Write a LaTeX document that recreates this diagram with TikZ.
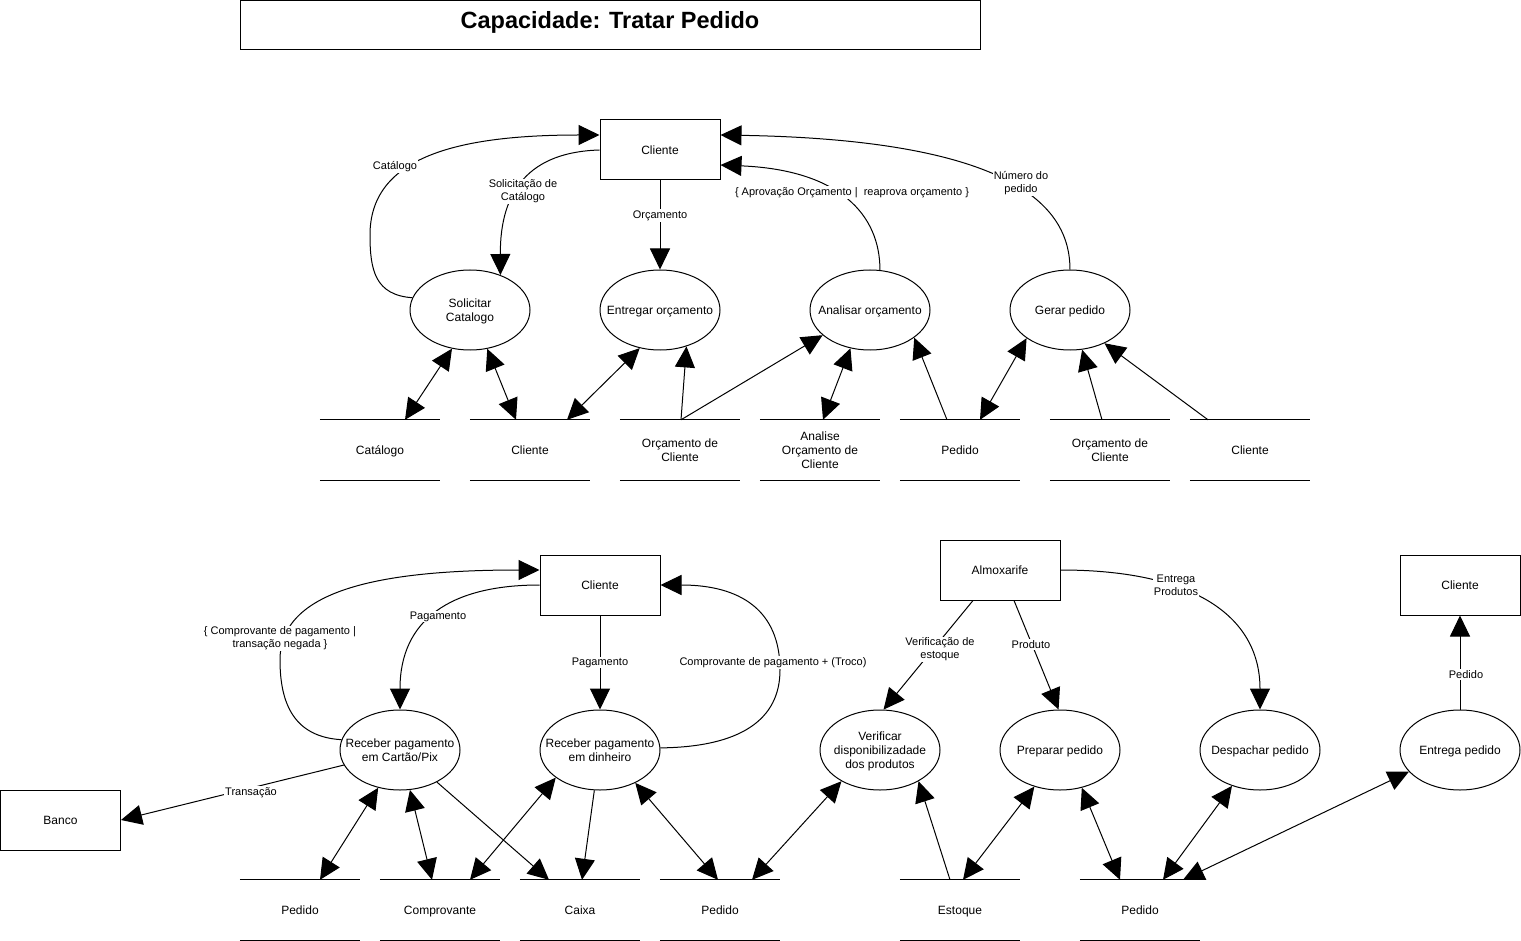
\documentclass[tikz,border=0pt]{standalone}
\usepackage{fontspec}
\setmainfont{Liberation Sans}
\usetikzlibrary{arrows.meta,shapes.geometric,calc}
\newcommand{\zw}[1]{\makebox[0pt]{\raisebox{-2pt}[\height][\depth]{\begin{tabular}{@{}c@{}}#1\end{tabular}}}}
\tikzset{
  base/.style={font=\fontsize{12}{14}\selectfont, align=center, inner sep=0pt},
  entity/.style={base, draw, line width=1pt, minimum width=120pt, minimum height=60pt},
  proc/.style={base, draw, ellipse, line width=1pt, minimum width=120pt, minimum height=80pt},
  store/.style={base, minimum width=120pt, minimum height=60pt},
  storeline/.style={line width=1pt},
  lbl/.style={font=\fontsize{11}{13}\selectfont, align=center, fill=white, inner sep=1pt, yshift=-1.5pt},
  flow/.style={line width=1pt, -{Triangle[length=21pt,width=20pt]}},
  bflow/.style={line width=1pt, {Triangle[length=21pt,width=20pt]}-{Triangle[length=21pt,width=20pt]}},
  plain/.style={line width=1pt}
}
\begin{document}
\begin{tikzpicture}[x=1pt,y=-1pt]
\useasboundingbox (0,0) rectangle (1521,941);

% title
\node[draw, line width=1pt, minimum width=740pt, minimum height=49pt, inner sep=0pt] (title) at (610,25) {};
\node[inner sep=0pt, font=\bfseries\fontsize{23.5}{28}\selectfont] (titletext) at (610,22.4) {Capacidade: Tratar Pedido};

% ---------------- top section ----------------
\node[entity] (cli) at (660,150) {\zw{Cliente}};
\node[proc] (sc) at (470,310) {\zw{Solicitar\\Catalogo}};
\node[proc] (eo) at (660,310) {\zw{Entregar orçamento}};
\node[proc] (ao) at (870,310) {\zw{Analisar orçamento}};
\node[proc] (gp) at (1070,310) {\zw{Gerar pedido}};

\node[store] (t1) at (380,450) {\zw{Catálogo}};
\node[store] (t2) at (530,450) {\zw{Cliente}};
\node[store] (t3) at (680,450) {\zw{Orçamento de\\Cliente}};
\node[store] (t4) at (820,450) {\zw{Analise\\Orçamento de\\Cliente}};
\node[store] (t5) at (960,450) {\zw{Pedido}};
\node[store] (t6) at (1110,450) {\zw{Orçamento de\\Cliente}};
\node[store] (t7) at (1250,450) {\zw{Cliente}};

% ---------------- bottom section ----------------
\node[entity] (c2) at (600,585) {\zw{Cliente}};
\node[entity] (am) at (1000,570) {\zw{Almoxarife}};
\node[entity] (c3) at (1460,585) {\zw{Cliente}};
\node[entity] (bk) at (60.5,820) {\zw{Banco}};

\node[proc] (cp) at (400,750) {\zw{Receber pagamento\\em Cartão/Pix}};
\node[proc] (cd) at (600,750) {\zw{Receber pagamento\\em dinheiro}};
\node[proc] (vd) at (880,750) {\zw{Verificar\\disponibilizadade\\dos produtos}};
\node[proc] (pp) at (1060,750) {\zw{Preparar pedido}};
\node[proc] (dp) at (1260,750) {\zw{Despachar pedido}};
\node[proc] (ep) at (1460,750) {\zw{Entrega pedido}};

\node[store] (b1) at (300,910) {\zw{Pedido}};
\node[store] (b2) at (440,910) {\zw{Comprovante}};
\node[store] (b3) at (580,910) {\zw{Caixa}};
\node[store] (b4) at (720,910) {\zw{Pedido}};
\node[store] (b5) at (960,910) {\zw{Estoque}};
\node[store] (b6) at (1140,910) {\zw{Pedido}};

\foreach \n in {t1,t2,t3,t4,t5,t6,t7,b1,b2,b3,b4,b5,b6}
  \draw[storeline] (\n.north west) -- (\n.north east) (\n.south west) -- (\n.south east);

% ---------------- top connectors ----------------
\draw[flow] (sc.168) .. controls (375,295) and (370,270) .. (370,235)
            .. controls (370,160) and (450,135) .. ([yshift=15pt]cli.west);
\draw[flow] (cli.west) .. controls (530,152) and (500,190) .. (sc.49);
\draw[flow] (cli.south) -- (eo.north);
\draw[flow] (ao.76) .. controls (880,215) and (840,170) .. ([yshift=-15pt]cli.east);
\draw[flow] (gp.north) .. controls (1070,210) and (1020,140) .. ([yshift=15pt]cli.east);

\node[lbl] (l1) at (395,165) {Catálogo};
\node[lbl] (l2) at (523,190) {Solicitação de\\Catálogo};
\node[lbl] (l3) at (660,214) {Orçamento};
\node[lbl] (l4) at (852,191) {\{ Aprovação Orçamento |\ \ reaprova orçamento \}};
\node[lbl] (l5) at (1021,182) {Número do\\pedido};

\draw[bflow] ([xshift=25pt]t1.north) -- (sc.245);
\draw[bflow] ([xshift=-14pt]t2.north) -- (sc.294);
\draw[bflow] ([xshift=37pt]t2.north) -- (eo.242);
\draw[flow] ([xshift=1pt]t3.north) -- (eo.306);
\draw[flow] ([xshift=1pt]t3.north) -- (ao.208);
\draw[bflow] ([xshift=3pt]t4.north) -- (ao.243);
\draw[flow] ([xshift=-13pt]t5.north) -- (ao.328);
\draw[bflow] ([xshift=20pt]t5.north) -- (gp.213);
\draw[flow] ([xshift=-8pt]t6.north) -- (gp.287);
\draw[flow] ([xshift=-42pt]t7.north) -- (gp.316);

% ---------------- bottom connectors ----------------
\draw[flow] (c2.west) .. controls (450,585) and (400,620) .. (cp.north);
\draw[flow] (cp.170) .. controls (295,737) and (280,705) .. (280,660)
            .. controls (280,590) and (380,570) .. ([yshift=15pt]c2.west);
\draw[flow] (c2.south) -- (cd.north);
\draw[flow] (cd.2) .. controls (740,747) and (780,720) .. (780,670)
            .. controls (780,610) and (740,585) .. (c2.east);
\draw[flow] (cp.195) -- (bk.east);
\draw[flow] ([xshift=-27pt]am.south) -- (vd.85);
\draw[flow] ([xshift=14pt]am.south) -- (pp.92);
\draw[flow] (am.east) .. controls (1200,570) and (1260,620) .. (dp.north);
\draw[flow] (ep.north) -- (c3.south);

\node[lbl] (m1) at (438,615) {Pagamento};
\node[lbl] (m2) at (280,637) {\{ Comprovante de pagamento |\\transação negada \}};
\node[lbl] (m3) at (600,661) {Pagamento};
\node[lbl] (m4) at (773,661) {Comprovante de pagamento + (Troco)};
\node[lbl] (m5) at (251,791) {Transação};
\node[lbl] (m6) at (940,648) {Verificação de\\estoque};
\node[lbl] (m7) at (1031,643) {Produto};
\node[lbl] (m8) at (1176,584) {Entrega\\Produtos};
\node[lbl] (m9) at (1466,673) {Pedido};

\draw[bflow] ([xshift=20pt]b1.north) -- (cp.240);
\draw[bflow] ([xshift=-8pt]b2.north) -- (cp.284);
\draw[flow] (cp.319) -- ([xshift=-31pt]b3.north);
\draw[bflow] ([xshift=30pt]b2.north) -- (cd.212);
\draw[flow] (cd.262) -- ([xshift=2pt]b3.north);
\draw[bflow] ([xshift=-2pt]b4.north) -- (cd.317);
\draw[bflow] ([xshift=32pt]b4.north) -- (vd.219);
\draw[flow] ([xshift=-10pt]b5.north) -- (vd.321);
\draw[bflow] ([xshift=3pt]b5.north) -- (pp.235);
\draw[bflow] ([xshift=-20pt]b6.north) -- (pp.300);
\draw[bflow] ([xshift=23pt]b6.north) -- (dp.232);
\draw[bflow] ([xshift=43pt]b6.north) -- (ep.203);
\end{tikzpicture}
\end{document}
